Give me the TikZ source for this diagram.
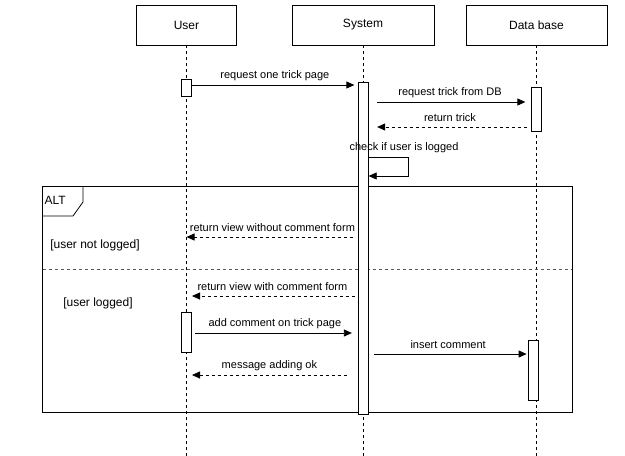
\documentclass[tikz,border=0pt]{standalone}
\usepackage{fontspec}
\setmainfont{Liberation Sans}
\usetikzlibrary{arrows.meta}
\tikzset{
  headbox/.style={draw, line width=0.8pt, minimum height=40pt, inner sep=0pt, font=\fontsize{12}{14}\selectfont},
  actbox/.style={draw, fill=white, line width=0.8pt, minimum width=10pt, inner sep=0pt},
  lifeline/.style={line width=0.8pt, dash pattern=on 3pt off 3pt},
  msg/.style={line width=0.8pt, -{Triangle[length=8pt,width=7pt]}},
  reply/.style={msg, dash pattern=on 3pt off 3pt},
  lbl/.style={midway, yshift=9pt, font=\fontsize{11}{13}\selectfont, inner sep=0pt},
  txt/.style={font=\fontsize{11}{13}\selectfont, inner sep=0pt},
  guard/.style={font=\fontsize{12}{14}\selectfont, inner sep=0pt},
  frameline/.style={line width=0.8pt},
}
\begin{document}
\begin{tikzpicture}[x=1pt,y=-1pt]
\useasboundingbox[fill=white] (0,0) rectangle (625,456);
% heads
\node[headbox, minimum width=100pt] (user) at (186.5,25) {User};
\node[headbox, minimum width=142pt] (sys) at (363,25) {System};
\node[headbox, minimum width=141pt] (db) at (536.5,25) {Data base};
% lifeline ends
\coordinate (userend) at (186.5,456);
\coordinate (sysend) at (363,456);
\coordinate (dbend) at (536.5,456);
\draw[lifeline] (user.south) -- (userend);
\draw[lifeline] (sys.south) -- (sysend);
\draw[lifeline] (db.south) -- (dbend);
% ALT frame
\draw[frameline] (42.5,186) rectangle (572,412);
\draw[frameline] (42.5,216) -- (73,216) -- (83,202) -- (83,186);
\node[guard, anchor=west] (alt) at (44.5,200.5) {ALT};
\draw[line width=0.8pt, black!65, dash pattern=on 3pt off 3pt] (42.5,269.5) -- (572,269.5);
\node[guard] (g1) at (95,245) {[user not logged]};
\node[guard] (g2) at (98,303.5) {[user logged]};
% activations
\node[actbox, minimum height=17pt] (ua1) at (186,87.5) {};
\node[actbox, minimum height=332pt, minimum width=9.5pt] (sa) at (363.5,248) {};
\node[actbox, minimum height=44pt, minimum width=9.5pt] (da1) at (536.5,109) {};
\node[actbox, minimum height=40pt] (ua2) at (186,332) {};
\node[actbox, minimum height=60pt] (da2) at (533,370) {};
% messages
\draw[msg, shorten >=4pt] (ua1.east |- 0,85) -- (sa.west |- 0,85)
  node[lbl] {request one trick page};
\draw[msg, shorten <=8.5pt, shorten >=6pt] (sa.east |- 0,102) -- (da1.west |- 0,102)
  node[lbl] {request trick from DB};
\draw[reply, shorten <=4.5pt, shorten >=8.5pt] (da1.west |- 0,127) -- (sa.east |- 0,127)
  node[lbl] {return trick};
\node[txt] (chk) at (404,147.5) {check if user is logged};
\coordinate (loopa) at (408,157);
\coordinate (loopb) at (408,176);
\draw[msg] (sa.east |- loopa) -- (loopa) -- (loopb) -- (sa.east |- loopb);
\draw[reply, shorten <=5pt] (sa.west |- 0,237) -- (user.south |- 0,237)
  node[lbl] {return view without comment form};
\draw[reply, shorten <=3.5pt, shorten >=5.5pt] (sa.west |- 0,296) -- (user.south |- 0,296)
  node[lbl] {return view with comment form};
\draw[msg, shorten <=4pt, shorten >=6.5pt] (ua2.east |- 0,333) -- (sa.west |- 0,333)
  node[lbl] {add comment on trick page};
\draw[msg, shorten <=5.5pt, shorten >=1pt] (sa.east |- 0,354) -- (da2.west |- 0,354)
  node[lbl] {insert comment};
\draw[reply, shorten <=11.5pt, shorten >=5.5pt] (sa.west |- 0,375) -- (user.south |- 0,375)
  node[lbl, xshift=-3pt] {message adding ok};
\end{tikzpicture}
\end{document}
